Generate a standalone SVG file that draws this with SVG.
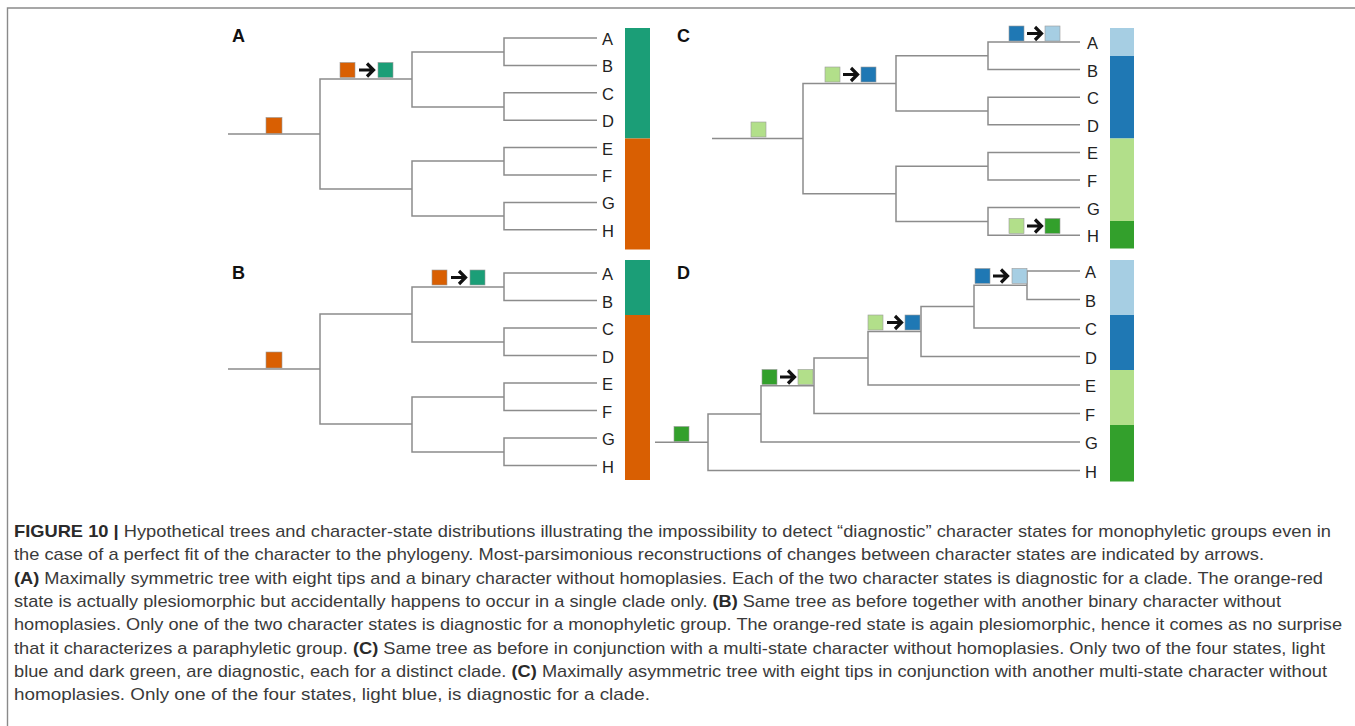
<svg xmlns="http://www.w3.org/2000/svg" xmlns:xlink="http://www.w3.org/1999/xlink" width="1355" height="726" viewBox="0 0 1355 726">
<style>
.edge{fill:none;stroke:#8c8c8c;stroke-width:1.5}
.frame{fill:none;stroke:#8a8a8a;stroke-width:1.4}
.tip{font-family:"Liberation Sans",Arial,sans-serif;font-size:16.5px;fill:#222}
.pl{font-family:"Liberation Sans",Arial,sans-serif;font-size:18px;font-weight:bold;fill:#111}
.cap{font-family:"Liberation Sans",Arial,sans-serif;font-size:17px;fill:#3a3a3a}
.b{font-weight:bold;fill:#2a2a2a}
.sq{stroke:#9a9a9a;stroke-width:0.6}
.or{fill:#D95F02}.tl{fill:#1B9E77}.lb{fill:#A6CEE3}.bl{fill:#1F78B4}.lg{fill:#B2DF8A}.dg{fill:#33A02C}
</style>
<defs>
<g id="arr"><path d="M1,0 H14 M9,-6.5 L15.5,0 L9,6.5" fill="none" stroke="#111" stroke-width="3.2"/></g>
</defs>
<rect width="1355" height="726" fill="#fff"/>
<path class="frame" d="M7.5,726 V8 H1355"/>

<!-- Panel A -->
<g id="panelA">
<text class="pl" x="232" y="42">A</text>
<g id="connectorsA">
<path class="edge" d="M228,134 H320 M320,134 V79 H412 M320,134 V189 H412 M412,79 V52 H504 M412,79 V107 H504 M412,189 V161 H504 M412,189 V216 H504 M504,52 V38 H597 M504,52 V65.4 H597 M504,107 V92.8 H597 M504,107 V120.2 H597 M504,161 V147.6 H597 M504,161 V175 H597 M504,216 V202.4 H597 M504,216 V229.8 H597"/>
</g>
<g id="A_root"><rect class="sq or" x="266" y="117.5" width="16" height="16"/></g>
<g id="A_change"><rect class="sq or" x="340" y="62.5" width="15" height="15"/><use xlink:href="#arr" x="358" y="70"/><rect class="sq tl" x="378" y="62.5" width="15" height="15"/></g>
<g id="A_tips">
<text class="tip" x="602" y="45">A</text><text class="tip" x="602" y="72.4">B</text><text class="tip" x="602" y="99.8">C</text><text class="tip" x="602" y="127.2">D</text><text class="tip" x="602" y="154.6">E</text><text class="tip" x="602" y="182">F</text><text class="tip" x="602" y="209.4">G</text><text class="tip" x="602" y="236.8">H</text>
</g>
<g id="A_bar"><rect class="tl" x="625" y="28" width="25" height="110.5"/><rect class="or" x="625" y="138.5" width="25" height="111"/></g>
</g>

<!-- Panel B -->
<g id="panelB">
<text class="pl" x="232" y="279">B</text>
<g id="connectorsB">
<path class="edge" d="M228,369 H320 M320,369 V314 H412 M320,369 V424 H412 M412,314 V287 H504 M412,314 V342 H504 M412,424 V397 H504 M412,424 V452 H504 M504,287 V273 H597 M504,287 V300.5 H597 M504,342 V328 H597 M504,342 V355.5 H597 M504,397 V383 H597 M504,397 V410.5 H597 M504,452 V438 H597 M504,452 V465.5 H597"/>
</g>
<g id="B_root"><rect class="sq or" x="266" y="352" width="16" height="16"/></g>
<g id="B_change"><rect class="sq or" x="432" y="270" width="15" height="15"/><use xlink:href="#arr" x="450" y="277.5"/><rect class="sq tl" x="470" y="270" width="15" height="15"/></g>
<g id="B_tips">
<text class="tip" x="602" y="280">A</text><text class="tip" x="602" y="307.5">B</text><text class="tip" x="602" y="335">C</text><text class="tip" x="602" y="362.5">D</text><text class="tip" x="602" y="390">E</text><text class="tip" x="602" y="417.5">F</text><text class="tip" x="602" y="445">G</text><text class="tip" x="602" y="472.5">H</text>
</g>
<g id="B_bar"><rect class="tl" x="625" y="260" width="25" height="55"/><rect class="or" x="625" y="315" width="25" height="165"/></g>
</g>

<!-- Panel C -->
<g id="panelC">
<text class="pl" x="677" y="42">C</text>
<g id="connectorsC">
<path class="edge" d="M712,138.6 H803 M803,138.6 V83.4 H896 M803,138.6 V193.8 H896 M896,83.4 V55.8 H988 M896,83.4 V111 H988 M896,193.8 V166.2 H988 M896,193.8 V221.4 H988 M988,55.8 V42 H1080 M988,55.8 V69.6 H1080 M988,111 V97.2 H1080 M988,111 V124.8 H1080 M988,166.2 V152.4 H1080 M988,166.2 V180 H1080 M988,221.4 V207.6 H1080 M988,221.4 V235.2 H1080"/>
</g>
<g id="C_root"><rect class="sq lg" x="751" y="122" width="15" height="15"/></g>
<g id="C_change1"><rect class="sq lg" x="825" y="67" width="15" height="15"/><use xlink:href="#arr" x="842" y="74.5"/><rect class="sq bl" x="861" y="67" width="15" height="15"/></g>
<g id="C_change2"><rect class="sq bl" x="1009" y="26" width="15" height="15"/><use xlink:href="#arr" x="1026" y="33.5"/><rect class="sq lb" x="1045" y="26" width="15" height="15"/></g>
<g id="C_change3"><rect class="sq lg" x="1009" y="218.5" width="15" height="15"/><use xlink:href="#arr" x="1026" y="226"/><rect class="sq dg" x="1045" y="218.5" width="15" height="15"/></g>
<g id="C_tips">
<text class="tip" x="1087" y="49">A</text><text class="tip" x="1087" y="76.6">B</text><text class="tip" x="1087" y="104.2">C</text><text class="tip" x="1087" y="131.8">D</text><text class="tip" x="1087" y="159.4">E</text><text class="tip" x="1087" y="187">F</text><text class="tip" x="1087" y="214.6">G</text><text class="tip" x="1087" y="242.2">H</text>
</g>
<g id="C_bar"><rect class="lb" x="1110" y="28" width="24" height="28"/><rect class="bl" x="1110" y="56" width="24" height="82.5"/><rect class="lg" x="1110" y="138.5" width="24" height="82.5"/><rect class="dg" x="1110" y="221" width="24" height="27.5"/></g>
</g>

<!-- Panel D -->
<g id="panelD">
<text class="pl" x="677" y="279">D</text>
<g id="connectorsD">
<path class="edge" d="M655,442.2 H708 M708,442.2 V470.5 H1080 M708,442.2 V413.9 H761 M761,413.9 V442 H1080 M761,413.9 V385.8 H814 M814,385.8 V413.5 H1080 M814,385.8 V358 H868 M868,358 V385 H1080 M868,358 V331.5 H921 M921,331.5 V356.5 H1080 M921,331.5 V306.6 H974 M974,306.6 V328 H1080 M974,306.6 V285.2 H1027 M1027,285.2 V271 H1080 M1027,285.2 V299.5 H1080"/>
</g>
<g id="D_root"><rect class="sq dg" x="674" y="426.5" width="15" height="15"/></g>
<g id="D_change1"><rect class="sq dg" x="762" y="369.5" width="15" height="15"/><use xlink:href="#arr" x="779" y="377"/><rect class="sq lg" x="798" y="369.5" width="15" height="15"/></g>
<g id="D_change2"><rect class="sq lg" x="868" y="315" width="15" height="15"/><use xlink:href="#arr" x="886" y="322.5"/><rect class="sq bl" x="905" y="315" width="15" height="15"/></g>
<g id="D_change3"><rect class="sq bl" x="975" y="268.5" width="15" height="15"/><use xlink:href="#arr" x="992" y="276"/><rect class="sq lb" x="1012" y="268.5" width="15" height="15"/></g>
<g id="D_tips">
<text class="tip" x="1085" y="278">A</text><text class="tip" x="1085" y="306.5">B</text><text class="tip" x="1085" y="335">C</text><text class="tip" x="1085" y="363.5">D</text><text class="tip" x="1085" y="392">E</text><text class="tip" x="1085" y="420.5">F</text><text class="tip" x="1085" y="449">G</text><text class="tip" x="1085" y="477.5">H</text>
</g>
<g id="D_bar"><rect class="lb" x="1110" y="260" width="24" height="55"/><rect class="bl" x="1110" y="315" width="24" height="55"/><rect class="lg" x="1110" y="370" width="24" height="55"/><rect class="dg" x="1110" y="425" width="24" height="56.5"/></g>
</g>

<!-- Caption -->
<g id="caption" class="cap">
<text x="14" y="537" textLength="1317" lengthAdjust="spacingAndGlyphs"><tspan class="b">FIGURE 10 |</tspan> Hypothetical trees and character-state distributions illustrating the impossibility to detect “diagnostic” character states for monophyletic groups even in</text>
<text x="14" y="560.3" textLength="1250" lengthAdjust="spacingAndGlyphs">the case of a perfect fit of the character to the phylogeny. Most-parsimonious reconstructions of changes between character states are indicated by arrows.</text>
<text x="14" y="583.6" textLength="1309" lengthAdjust="spacingAndGlyphs"><tspan class="b">(A)</tspan> Maximally symmetric tree with eight tips and a binary character without homoplasies. Each of the two character states is diagnostic for a clade. The orange-red</text>
<text x="14" y="606.9" textLength="1267" lengthAdjust="spacingAndGlyphs">state is actually plesiomorphic but accidentally happens to occur in a single clade only. <tspan class="b">(B)</tspan> Same tree as before together with another binary character without</text>
<text x="14" y="630.2" textLength="1328" lengthAdjust="spacingAndGlyphs">homoplasies. Only one of the two character states is diagnostic for a monophyletic group. The orange-red state is again plesiomorphic, hence it comes as no surprise</text>
<text x="14" y="653.5" textLength="1311" lengthAdjust="spacingAndGlyphs">that it characterizes a paraphyletic group. <tspan class="b">(C)</tspan> Same tree as before in conjunction with a multi-state character without homoplasies. Only two of the four states, light</text>
<text x="14" y="676.8" textLength="1313" lengthAdjust="spacingAndGlyphs">blue and dark green, are diagnostic, each for a distinct clade. <tspan class="b">(C)</tspan> Maximally asymmetric tree with eight tips in conjunction with another multi-state character without</text>
<text x="14" y="700.1" textLength="636" lengthAdjust="spacingAndGlyphs">homoplasies. Only one of the four states, light blue, is diagnostic for a clade.</text>
</g>
</svg>
